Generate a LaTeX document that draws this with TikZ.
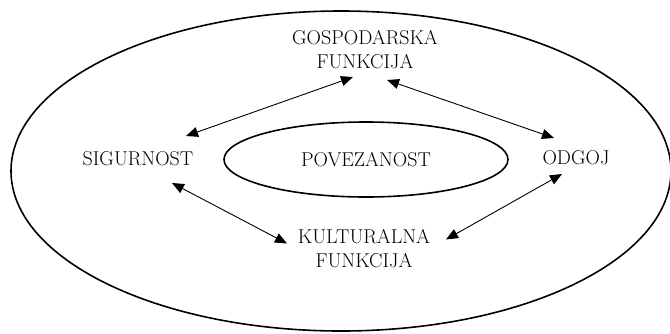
\documentclass[tikz,border=0pt]{standalone}
\usetikzlibrary{calc, arrows.meta, shapes.geometric}
\newcommand{\LabelSize}{\fontsize{20}{24}\selectfont}
\tikzset{Label/.style={
    inner sep=0pt,
    align=center,
    font=\LabelSize
    }
}
\tikzset{Ring/.style={
    draw=black,
    line width=1.6pt
    }
}
\tikzset{Link/.style={
    {Triangle[length=12pt,width=10pt]}-{Triangle[length=12pt,width=10pt]},
    line width=0.9pt
    }
}

\begin{document}
\begin{tikzpicture}[draw=black, x=1pt, y=-1pt]
    \useasboundingbox (0,0) rectangle (670,333);

    % outer ring
    \draw[Ring] (341,171) ellipse [x radius=330, y radius=160];

    \node (pov)[Ring, ellipse, font=\LabelSize, inner sep=0pt, minimum width=284pt, minimum height=75pt] at (366,159.5) {POVEZANOST};

    \node (gosp)[Label] at (365,50) {GOSPODARSKA\\FUNKCIJA};
    \node (sig)[Label] at (138,159) {SIGURNOST};
    \node (odgoj)[Label] at (576,158) {ODGOJ};
    \node (kult)[Label] at (364,248.5) {KULTURALNA\\FUNKCIJA};

    \draw[Link] ($(sig)+(48,-23)$) -- ($(gosp)+(-12,27)$);
    \draw[Link] ($(gosp)+(22,30)$) -- ($(odgoj)+(-22,-20)$);
    \draw[Link] ($(sig)+(34,24)$) -- ($(kult)+(-77,-5)$);
    \draw[Link] ($(odgoj)+(-14,16)$) -- ($(kult)+(82,-9)$);

\end{tikzpicture}
\end{document}
